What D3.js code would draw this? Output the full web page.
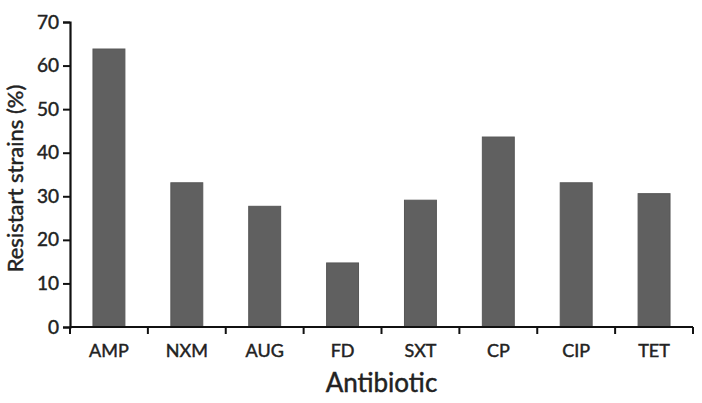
<!DOCTYPE html>
<html>
<head>
<meta charset="utf-8">
<script src="https://cdn.jsdelivr.net/npm/d3@7"></script>
<style>
	body { margin: 0; background: #fff; }
	svg text { font-family: Lato, "Open Sans", sans-serif; fill: #222; stroke: #222; stroke-width: 0.45px; }
</style>
</head>
<body>
<svg id="chart" width="702" height="403"></svg>
<script>
var antibiotics = ["AMP", "NXM", "AUG", "FD", "SXT", "CP", "CIP", "TET"];
var resistant = [63.8, 33.1, 27.7, 14.7, 29.1, 43.6, 33.1, 30.6];
var yTicks = [0, 10, 20, 30, 40, 50, 60, 70];

var svg = d3.select("#chart");
var margin = { left: 70, right: 9, top: 22, bottom: 76 };
var width = +svg.attr("width") - margin.left - margin.right;
var height = +svg.attr("height") - margin.top - margin.bottom;

var g = svg.append("g").attr("transform", "translate(" + margin.left + "," + margin.top + ")");

var x = d3.scaleBand()
	.domain(antibiotics)
	.range([0, width])
	.paddingInner(0.59)
	.paddingOuter(0.295);

var y = d3.scaleLinear()
	.domain([0, 70])
	.range([height, 0]);

var data = antibiotics.map(function(a, i) { return { name: a, value: resistant[i] }; });

g.selectAll(".bar")
	.data(data)
	.enter().append("rect")
	.attr("class", "bar")
	.attr("x", function(d) { return x(d.name); })
	.attr("y", function(d) { return y(d.value); })
	.attr("width", x.bandwidth())
	.attr("height", function(d) { return height - y(d.value); })
	.attr("fill", "#606060")
	.attr("stroke", "#575757")
	.attr("stroke-width", 1);

// y axis
var yAxis = g.append("g")
	.call(d3.axisLeft(y).tickValues(yTicks).tickSize(7).tickPadding(4));
yAxis.select(".domain").attr("stroke", "#111").attr("stroke-width", 2.2);
yAxis.selectAll(".tick line").attr("stroke", "#111").attr("stroke-width", 2);
yAxis.selectAll(".tick text").attr("font-size", 19).style("fill", "#222");

// x axis: ticks on the band edges
var edges = antibiotics.map(function(a) { return x(a) - x.step() * x.paddingOuter(); });
edges.push(width);
var xAxisG = g.append("g").attr("transform", "translate(0," + height + ")");
xAxisG.append("line")
	.attr("x1", 0).attr("x2", width)
	.attr("stroke", "#111").attr("stroke-width", 2.2);
xAxisG.selectAll(".xtick")
	.data(edges)
	.enter().append("line")
	.attr("class", "xtick")
	.attr("x1", function(d) { return d; })
	.attr("x2", function(d) { return d; })
	.attr("y1", 0).attr("y2", 7)
	.attr("stroke", "#111").attr("stroke-width", 2);
xAxisG.selectAll(".xlabel")
	.data(antibiotics)
	.enter().append("text")
	.attr("class", "xlabel")
	.attr("x", function(d) { return x(d) + x.bandwidth() / 2; })
	.attr("y", 30)
	.attr("text-anchor", "middle")
	.attr("font-size", 18)
	.text(function(d) { return d; });

svg.append("text")
	.attr("x", margin.left + width / 2)
	.attr("y", 392)
	.attr("text-anchor", "middle")
	.attr("font-size", 26)
	.text("Antibiotic");

svg.append("text")
	.attr("transform", "translate(23," + (margin.top + height / 2 + 4) + ") rotate(-90)")
	.attr("text-anchor", "middle")
	.attr("font-size", 22)
	.text("Resistart strains (%)");
</script>
</body>
</html>
